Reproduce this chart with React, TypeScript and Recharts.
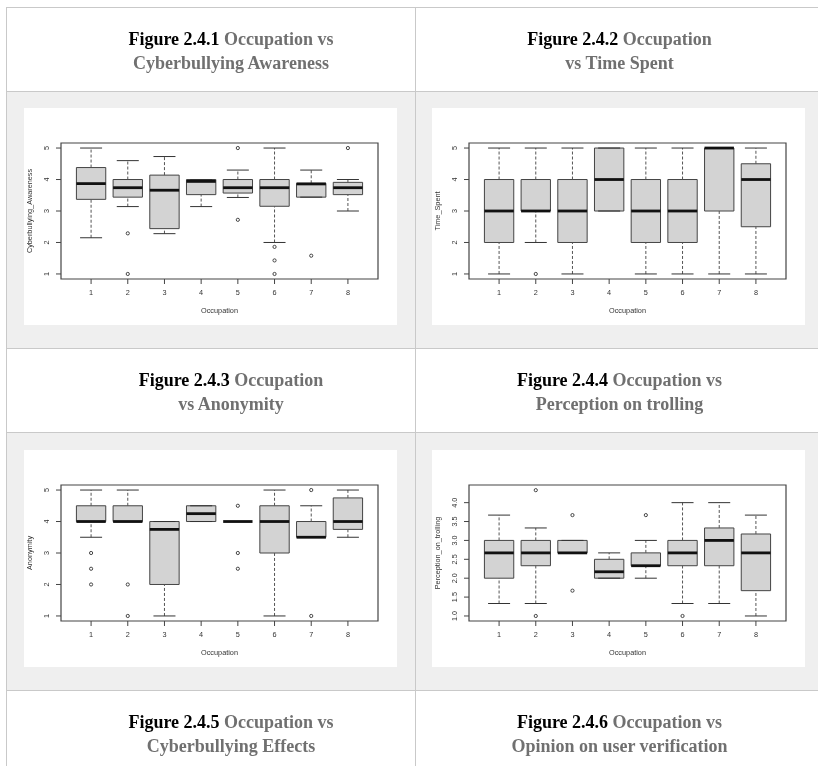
import React from 'react';
import { ComposedChart, XAxis, YAxis, Scatter, ReferenceArea, ReferenceLine } from 'recharts';

const OCCUPATIONS = [1, 2, 3, 4, 5, 6, 7, 8];

// each box: [lower whisker, Q1, median, Q3, upper whisker], one per occupation
const awarenessBoxes = [
  [2.15, 3.37, 3.87, 4.38, 5],
  [3.14, 3.44, 3.74, 4.0, 4.6],
  [2.28, 2.44, 3.66, 4.14, 4.73],
  [3.14, 3.52, 3.94, 4.0, 4.0],
  [3.43, 3.57, 3.74, 4.0, 4.3],
  [2.0, 3.15, 3.74, 4.0, 5],
  [3.44, 3.44, 3.86, 3.88, 4.3],
  [3.0, 3.52, 3.74, 3.91, 4.0],
];
// outliers: [occupation, value]
const awarenessOutliers = [
  [2, 2.29], [2, 1], [5, 5], [5, 2.72], [6, 1.86], [6, 1.43], [6, 1], [7, 1.58], [8, 5],
];

const timeBoxes = [
  [1, 2, 3, 4, 5],
  [2, 3, 3, 4, 5],
  [1, 2, 3, 4, 5],
  [3, 3, 4, 5, 5],
  [1, 2, 3, 4, 5],
  [1, 2, 3, 4, 5],
  [1, 3, 5, 5, 5],
  [1, 2.5, 4, 4.5, 5],
];
const timeOutliers = [[2, 1]];

const anonymityBoxes = [
  [3.5, 4, 4, 4.5, 5],
  [4, 4, 4, 4.5, 5],
  [1, 2, 3.75, 4, 4],
  [4, 4, 4.25, 4.5, 4.5],
  [4, 4, 4, 4, 4],
  [1, 3, 4, 4.5, 5],
  [3.5, 3.5, 3.5, 4, 4.5],
  [3.5, 3.75, 4, 4.75, 5],
];
const anonymityOutliers = [
  [1, 3], [1, 2.5], [1, 2], [2, 2], [2, 1], [5, 4.5], [5, 3], [5, 2.5], [7, 5], [7, 1],
];

const trollingBoxes = [
  [1.33, 2.0, 2.67, 3.0, 3.67],
  [1.33, 2.33, 2.67, 3.0, 3.33],
  [2.67, 2.67, 2.67, 3.0, 3.0],
  [2.0, 2.0, 2.17, 2.5, 2.67],
  [2.0, 2.33, 2.33, 2.67, 3.0],
  [1.33, 2.33, 2.67, 3.0, 4.0],
  [1.33, 2.33, 3.0, 3.33, 4.0],
  [1.0, 1.67, 2.67, 3.17, 3.67],
];
const trollingOutliers = [
  [2, 4.33], [2, 1.0], [3, 3.67], [3, 1.67], [5, 3.67], [6, 1.0],
];

const LIKERT_TICKS = [1, 2, 3, 4, 5];
const TROLLING_TICKS = [1.0, 1.5, 2.0, 2.5, 3.0, 3.5, 4.0];

const CAPTIONS = [
  ['Figure 2.4.1', 'Occupation vs', 'Cyberbullying Awareness'],
  ['Figure 2.4.2', 'Occupation', 'vs Time Spent'],
  ['Figure 2.4.3', 'Occupation', 'vs Anonymity'],
  ['Figure 2.4.4', 'Occupation vs', 'Perception on trolling'],
  ['Figure 2.4.5', 'Occupation vs', 'Cyberbullying Effects'],
  ['Figure 2.4.6', 'Occupation vs', 'Opinion on user verification'],
];

const SANS = '"Liberation Sans", Arial, sans-serif';
const SERIF = '"Liberation Serif", "Times New Roman", serif';
const X_DOMAIN: [number, number] = [0.18, 8.82];
const BOX_HALF = 0.4;
const CAP_HALF = 0.3;
const W = 373;
const H = 217;

interface BoxPlotProps {
  boxes: number[][];
  outliers: number[][];
  yDomain: [number, number];
  yTicks: number[];
  yLabel: string;
  decimals?: number;
}

const BoxPlot: React.FC<BoxPlotProps> = ({ boxes, outliers, yDomain, yTicks, yLabel, decimals = 0 }) => {
  const points = outliers.map(([x, y]) => ({ x, y }));

  const yTick = (props: any) => {
    const { x, y, payload } = props;
    return (
      <text x={x} y={y} transform={`rotate(-90 ${x} ${y})`} textAnchor="middle"
        fontSize={7.3} fill="#333" fontFamily={SANS}>
        {Number(payload.value).toFixed(decimals)}
      </text>
    );
  };

  return (
    <div style={{ position: 'relative', width: W, height: H, background: '#fff' }}>
      <ComposedChart width={W} height={H} margin={{ top: 35, right: 19, bottom: 0, left: 0 }}>
        <XAxis type="number" dataKey="x" domain={X_DOMAIN} ticks={OCCUPATIONS} allowDataOverflow
          interval={0} height={46} axisLine={false} tickSize={5} tickMargin={6}
          tickLine={{ stroke: '#444' }}
          tick={{ fontSize: 7.3, fill: '#333', fontFamily: SANS }} />
        <YAxis type="number" dataKey="y" domain={yDomain} ticks={yTicks} allowDataOverflow
          interval={0} width={37} axisLine={false} tickSize={5} tickMargin={7}
          tickLine={{ stroke: '#444' }} tick={yTick} />

        {boxes.map(([lo, q1, med, q3, hi], i) => {
          const c = OCCUPATIONS[i];
          return (
            <React.Fragment key={c}>
              <ReferenceArea x1={c - BOX_HALF} x2={c + BOX_HALF} y1={q1} y2={q3}
                fill="#d3d3d3" fillOpacity={1} stroke="#444" strokeWidth={1} ifOverflow="visible" />
              {hi > q3 && (
                <ReferenceLine segment={[{ x: c, y: q3 }, { x: c, y: hi }]}
                  stroke="#555" strokeDasharray="3 2" ifOverflow="visible" />
              )}
              {lo < q1 && (
                <ReferenceLine segment={[{ x: c, y: lo }, { x: c, y: q1 }]}
                  stroke="#555" strokeDasharray="3 2" ifOverflow="visible" />
              )}
              <ReferenceLine segment={[{ x: c - CAP_HALF, y: hi }, { x: c + CAP_HALF, y: hi }]}
                stroke="#333" strokeWidth={1} ifOverflow="visible" />
              <ReferenceLine segment={[{ x: c - CAP_HALF, y: lo }, { x: c + CAP_HALF, y: lo }]}
                stroke="#333" strokeWidth={1} ifOverflow="visible" />
              <ReferenceLine segment={[{ x: c - BOX_HALF, y: med }, { x: c + BOX_HALF, y: med }]}
                stroke="#111" strokeWidth={2.8} ifOverflow="visible" />
            </React.Fragment>
          );
        })}

        <ReferenceArea x1={X_DOMAIN[0]} x2={X_DOMAIN[1]} y1={yDomain[0]} y2={yDomain[1]}
          fill="none" stroke="#444" strokeWidth={1.2} ifOverflow="visible" />

        <Scatter data={points} isAnimationActive={false}
          shape={(p: any) => (
            <circle cx={p.cx} cy={p.cy} r={1.6} fill="none" stroke="#333" strokeWidth={0.9} />
          )} />
      </ComposedChart>

      <div style={{
        position: 'absolute', left: 195.5, top: 203, transform: 'translate(-50%, -50%)',
        fontFamily: SANS, fontSize: 7.3, color: '#333', whiteSpace: 'nowrap', lineHeight: 1,
      }}>Occupation</div>
      <div style={{
        position: 'absolute', left: 6, top: 103, transform: 'translate(-50%, -50%) rotate(-90deg)',
        fontFamily: SANS, fontSize: 7.3, color: '#333', whiteSpace: 'nowrap', lineHeight: 1,
      }}>{yLabel}</div>
    </div>
  );
};

const border = '1px solid #c9c9c9';

const Caption: React.FC<{ idx: number; left: boolean }> = ({ idx, left }) => {
  const [num, first, second] = CAPTIONS[idx];
  return (
    <div style={{
      borderRight: left ? border : 'none', borderBottom: border, boxSizing: 'border-box',
      background: '#fff',
      display: 'flex', alignItems: 'center', justifyContent: 'center', textAlign: 'center',
      paddingLeft: left ? 40 : 5, paddingTop: 3,
      fontFamily: SERIF, fontWeight: 'bold', fontSize: 18, lineHeight: '24px', color: '#707070',
    }}>
      <div>
        <span style={{ color: '#000' }}>{num}</span> {first}<br />{second}
      </div>
    </div>
  );
};

const ChartCell: React.FC<{ left: number; top: number; first: boolean; children: React.ReactNode }> = (
  { left, top, first, children },
) => (
  <div style={{
    borderRight: first ? border : 'none', borderBottom: border, boxSizing: 'border-box',
    background: '#efefef', position: 'relative',
  }}>
    <div style={{ position: 'absolute', left, top }}>{children}</div>
  </div>
);

export default function App() {
  return (
    <div style={{
      position: 'fixed', left: 0, top: 0, width: 818, height: 766, overflow: 'hidden',
      background: '#fff',
    }}>
      <div style={{
        position: 'absolute', left: 6, top: 7, width: 812, display: 'grid',
        gridTemplateColumns: '409px 402px', gridTemplateRows: '84px 257px 84px 258px 84px',
        borderLeft: border, borderTop: border, filter: 'grayscale(1)',
      }}>
        <Caption idx={0} left />
        <Caption idx={1} left={false} />
        <ChartCell left={17} top={16} first>
          <BoxPlot boxes={awarenessBoxes} outliers={awarenessOutliers} yDomain={[0.84, 5.16]}
            yTicks={LIKERT_TICKS} yLabel="Cyberbullying_Awareness" />
        </ChartCell>
        <ChartCell left={16} top={16} first={false}>
          <BoxPlot boxes={timeBoxes} outliers={timeOutliers} yDomain={[0.84, 5.16]}
            yTicks={LIKERT_TICKS} yLabel="Time_Spent" />
        </ChartCell>
        <Caption idx={2} left />
        <Caption idx={3} left={false} />
        <ChartCell left={17} top={17} first>
          <BoxPlot boxes={anonymityBoxes} outliers={anonymityOutliers} yDomain={[0.84, 5.16]}
            yTicks={LIKERT_TICKS} yLabel="Anonymity" />
        </ChartCell>
        <ChartCell left={16} top={17} first={false}>
          <BoxPlot boxes={trollingBoxes} outliers={trollingOutliers} yDomain={[0.867, 4.467]}
            yTicks={TROLLING_TICKS} yLabel="Perception_on_trolling" decimals={1} />
        </ChartCell>
        <Caption idx={4} left />
        <Caption idx={5} left={false} />
      </div>
    </div>
  );
}
